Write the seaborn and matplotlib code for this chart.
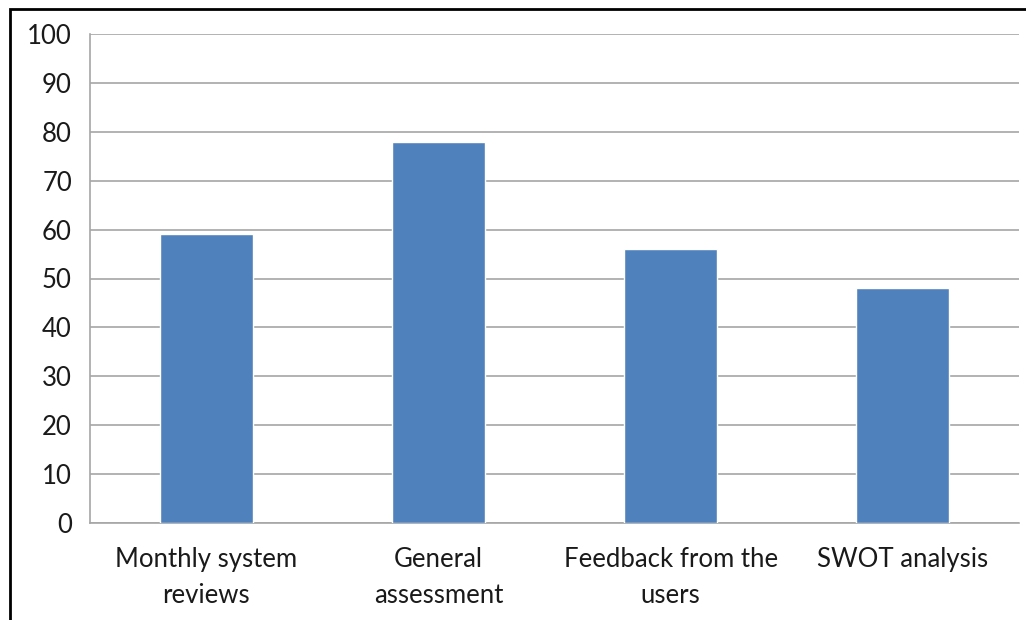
import matplotlib
matplotlib.use("Agg")
import matplotlib.pyplot as plt
from matplotlib.patches import Rectangle
import seaborn as sns

# Chart data
categories = ["Monthly system\nreviews", "General\nassessment",
              "Feedback from the\nusers", "SWOT analysis"]
values = [59, 78, 56, 48]
y_ticks = list(range(0, 101, 10))

sns.set_style("white")
plt.rcParams["font.family"] = ["Lato", "DejaVu Sans"]

fig = plt.figure(figsize=(10.26, 6.2), dpi=100)
ax = fig.add_axes([90 / 1026, 1 - 523 / 620, 929 / 1026, 489 / 620])

sns.barplot(x=categories, y=values, color="#4F81BD", width=0.4,
            saturation=1, ax=ax, zorder=3)

ax.set_ylim(0, 100)
ax.set_xlim(-0.5, len(categories) - 0.5)
ax.set_yticks(y_ticks)
ax.yaxis.grid(True, color="#a6a6a6", linewidth=1.2, zorder=0)
ax.set_axisbelow(True)

for side in ["top", "right"]:
    ax.spines[side].set_visible(False)
for side in ["left", "bottom"]:
    ax.spines[side].set_color("#a6a6a6")
    ax.spines[side].set_linewidth(1.2)

ax.tick_params(axis="y", length=8, width=1.2, color="#a6a6a6",
               labelsize=18.5, labelcolor="#1a1a1a", pad=5)
ax.tick_params(axis="x", which="major", length=0, labelsize=18.5,
               labelcolor="#1a1a1a", pad=17)
ax.set_xticks([i - 0.5 for i in range(len(categories) + 1)], minor=True)
ax.tick_params(axis="x", which="minor", length=7, width=1.2,
               color="#a6a6a6", direction="out")
ax.set_xlabel("")
ax.set_ylabel("")
for lbl in ax.get_xticklabels():
    lbl.set_linespacing(1.55)

# frame around the chart (cropped on right and bottom)
fig.patches.append(Rectangle((10 / 1026, -0.2), 1.5, 1.2 - 9 / 620,
                             transform=fig.transFigure, fill=False,
                             edgecolor="black", linewidth=2))

fig.savefig("out.png", dpi=100)
